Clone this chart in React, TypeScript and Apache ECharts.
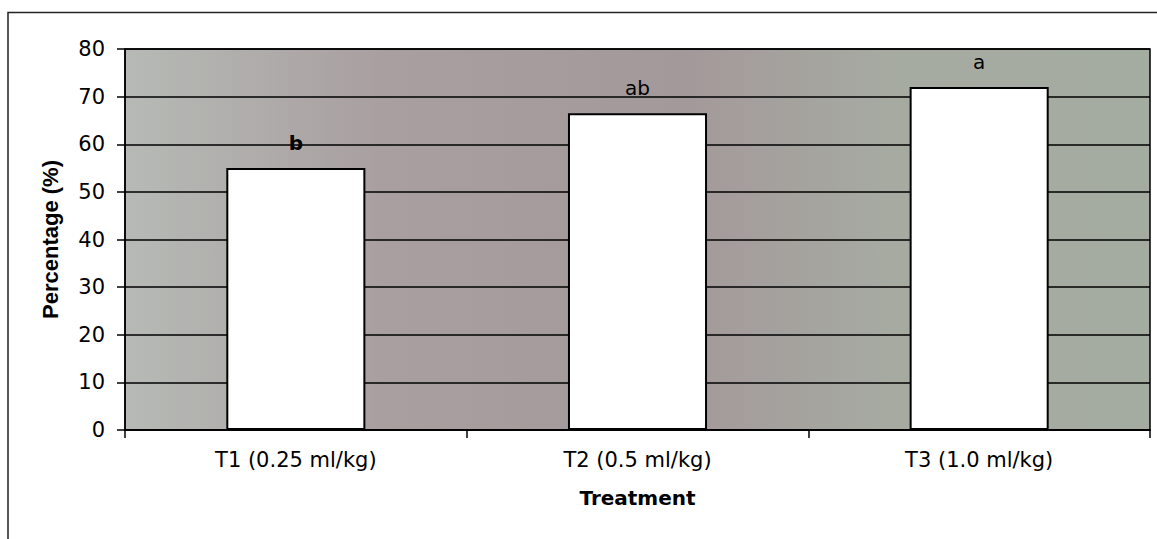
import React, { useEffect, useRef } from "react";
import * as echarts from "echarts";

const categories = ["T1 (0.25 ml/kg)", "T2 (0.5 ml/kg)", "T3 (1.0 ml/kg)"];
const values = [55, 66.5, 72];
const letters = ["b", "ab", "a"];
const letterBold = [true, false, false];
const yTicks = { min: 0, max: 80, interval: 10 };

export default function App() {
  const ref = useRef<HTMLDivElement>(null);
  useEffect(() => {
    document.body.style.margin = "0";
    const chart = echarts.init(ref.current!, null, { renderer: "svg" });
    chart.setOption({
      animation: false,
      backgroundColor: "#ffffff",
      graphic: [
        {
          type: "polyline",
          shape: { points: [[8, 539], [8, 12.5], [1157, 12.5]] },
          style: { stroke: "#222", lineWidth: 1.5, fill: null },
          silent: true,
        },
      ],
      grid: {
        left: 125,
        right: 7,
        top: 49,
        bottom: 109,
        show: true,
        borderColor: "#000",
        borderWidth: 1.5,
        backgroundColor: {
          type: "linear",
          x: 0,
          y: 0,
          x2: 1,
          y2: 0,
          colorStops: [
            { offset: 0, color: "#b6bab5" },
            { offset: 0.25, color: "#a99fa0" },
            { offset: 0.55, color: "#a4999a" },
            { offset: 0.75, color: "#a6aba2" },
            { offset: 1, color: "#a4aba1" },
          ],
        },
      },
      xAxis: {
        type: "category",
        data: categories,
        name: "Treatment",
        nameLocation: "middle",
        nameGap: 58,
        nameTextStyle: {
          fontFamily: "DejaVu Sans",
          fontWeight: "bold",
          fontSize: 20,
          color: "#000",
        },
        axisLine: { lineStyle: { color: "#000", width: 1.5 } },
        axisTick: { show: true, length: 8, lineStyle: { color: "#000", width: 1.5 } },
        axisLabel: {
          fontFamily: "DejaVu Sans",
          fontSize: 21,
          color: "#000",
          margin: 19,
        },
      },
      yAxis: {
        type: "value",
        min: yTicks.min,
        max: yTicks.max,
        interval: yTicks.interval,
        name: "Percentage (%)",
        nameLocation: "middle",
        nameGap: 64,
        nameTextStyle: {
          fontFamily: "Liberation Sans",
          fontWeight: "bold",
          fontSize: 22,
          color: "#000",
        },
        axisLine: { show: true, lineStyle: { color: "#000", width: 1.5 } },
        axisTick: { show: true, length: 8, lineStyle: { color: "#000", width: 1.5 } },
        axisLabel: {
          fontFamily: "DejaVu Sans",
          fontSize: 21,
          color: "#000",
          margin: 20,
        },
        splitLine: { show: true, lineStyle: { color: "#000", width: 1.6 } },
      },
      series: [
        {
          type: "bar",
          barWidth: "40.7%",
          data: values.map((v, i) => ({
            value: v,
            label: { fontWeight: letterBold[i] ? "bold" : "normal" },
          })),
          itemStyle: { color: "#ffffff", borderColor: "#000", borderWidth: 2 },
          label: {
            show: true,
            position: "top",
            distance: 15,
            fontFamily: "DejaVu Sans",
            fontSize: 20,
            color: "#000",
            formatter: (p: any) => letters[p.dataIndex],
          },
        },
      ],
    });
    return () => chart.dispose();
  }, []);
  return <div ref={ref} style={{ width: 1157, height: 539 }} />;
}
